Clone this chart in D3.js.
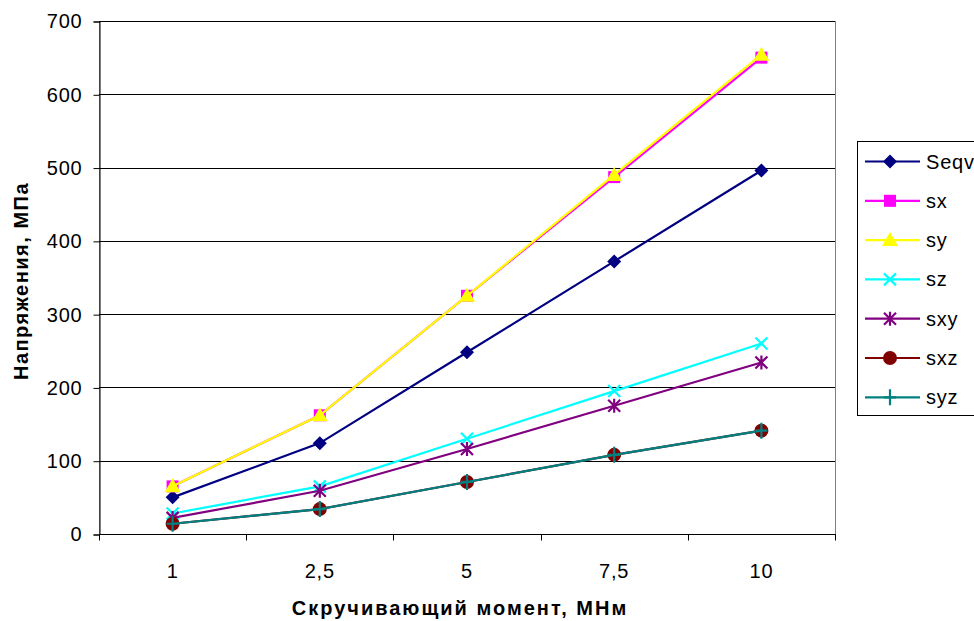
<!DOCTYPE html>
<html>
<head>
<meta charset="utf-8">
<script src="https://cdn.jsdelivr.net/npm/d3@7"></script>
<style>
  html, body { margin: 0; padding: 0; background: #fff; }
  svg { display: block; font-family: Arial, "Liberation Sans", sans-serif; }
</style>
</head>
<body>
<svg id="chart" width="974" height="621"></svg>
<script>
// Torque levels (category axis)
const categories = ["1", "2,5", "5", "7,5", "10"];

// Stress components, MPa
const seqv = [50, 124, 248, 372, 496];
const sx   = [65, 162, 325, 487, 650];
const sy   = [65, 162, 325, 490, 654];
const sz   = [28, 65, 130, 195, 260];
const sxy  = [22, 59, 116, 175, 234];
const sxz  = [14, 34, 71, 108, 141];
const syz  = [14, 34, 71, 108, 141];

const yTicks = [0, 100, 200, 300, 400, 500, 600, 700];

const series = [
  { name: "Seqv", values: seqv, color: "#000080", marker: "diamond" },
  { name: "sx",   values: sx,   color: "#FF00FF", marker: "square" },
  { name: "sy",   values: sy,   color: "#FFFF00", marker: "triangle" },
  { name: "sz",   values: sz,   color: "#00FFFF", marker: "x" },
  { name: "sxy",  values: sxy,  color: "#800080", marker: "star" },
  { name: "sxz",  values: sxz,  color: "#800000", marker: "circle" },
  { name: "syz",  values: syz,  color: "#008080", marker: "plus" }
];

const svg = d3.select("#chart");
const plot = { left: 99, right: 835, top: 21, bottom: 534 };

const x = d3.scaleBand().domain(categories).range([plot.left, plot.right]);
const y = d3.scaleLinear().domain([0, 700]).range([plot.bottom, plot.top]);
const cx = c => x(c) + x.bandwidth() / 2;

// Plot area frame (grey)
svg.append("rect")
  .attr("x", plot.left + 0.5).attr("y", plot.top + 0.5)
  .attr("width", plot.right - plot.left).attr("height", plot.bottom - plot.top)
  .attr("fill", "none").attr("stroke", "#808080").attr("stroke-width", 1);

// Horizontal gridlines
svg.append("g").selectAll("line")
  .data(yTicks.filter(d => d > 0))
  .join("line")
  .attr("x1", plot.left).attr("x2", plot.right)
  .attr("y1", d => Math.round(y(d)) + 0.5).attr("y2", d => Math.round(y(d)) + 0.5)
  .attr("stroke", "#000").attr("stroke-width", 1);

// Y axis
const yAxis = svg.append("g")
  .attr("transform", `translate(${plot.left + 0.5},0.5)`)
  .call(d3.axisLeft(y).tickValues(yTicks).tickSize(6).tickPadding(11).tickFormat(d3.format("d")));
yAxis.select(".domain").attr("stroke", "#000");
yAxis.selectAll(".tick line").attr("stroke", "#000");
yAxis.selectAll("text").attr("font-size", 20).attr("fill", "#000")
  .attr("letter-spacing", 0.8)
  .attr("font-family", "Arial, 'Liberation Sans', sans-serif");

// X axis: ticks at category boundaries, labels at centres
const xAxisG = svg.append("g").attr("transform", `translate(0,${plot.bottom + 0.5})`);
xAxisG.append("line")
  .attr("x1", plot.left).attr("x2", plot.right + 1)
  .attr("stroke", "#000");
const boundaries = categories.map(c => x(c)).concat([plot.right]);
xAxisG.selectAll("line.tk").data(boundaries).join("line")
  .attr("class", "tk")
  .attr("x1", d => Math.round(d) + 0.5).attr("x2", d => Math.round(d) + 0.5)
  .attr("y1", 0).attr("y2", 6)
  .attr("stroke", "#000");
xAxisG.selectAll("text").data(categories).join("text")
  .attr("x", d => cx(d)).attr("y", 43)
  .attr("text-anchor", "middle")
  .attr("font-size", 20).attr("fill", "#000")
  .attr("letter-spacing", 0.8)
  .text(d => d);

// Axis titles
svg.append("text")
  .attr("transform", `translate(28,281) rotate(-90)`)
  .attr("text-anchor", "middle")
  .attr("font-size", 20).attr("font-weight", "bold")
  .attr("letter-spacing", 1.5)
  .text("Напряжения, МПа");
svg.append("text")
  .attr("x", 460).attr("y", 615)
  .attr("text-anchor", "middle")
  .attr("font-size", 20).attr("font-weight", "bold")
  .attr("letter-spacing", 2)
  .text("Скручивающий момент, МНм");

// Marker drawing
function drawMarker(g, type, color) {
  switch (type) {
    case "diamond":
      g.append("path").attr("d", "M0,-7L7,0L0,7L-7,0Z").attr("fill", color);
      break;
    case "square":
      g.append("rect").attr("x", -6).attr("y", -6).attr("width", 12).attr("height", 12).attr("fill", color);
      break;
    case "triangle":
      g.append("path").attr("d", "M0,-8L8,6L-8,6Z").attr("fill", color);
      break;
    case "x":
      g.append("path").attr("d", "M-6,-6L6,6M-6,6L6,-6").attr("stroke", color).attr("stroke-width", 2.2).attr("fill", "none");
      break;
    case "star":
      g.append("path").attr("d", "M-6,-6L6,6M-6,6L6,-6M0,-7L0,7").attr("stroke", color).attr("stroke-width", 2.2).attr("fill", "none");
      break;
    case "circle":
      g.append("circle").attr("r", 7).attr("fill", color);
      break;
    case "plus":
      g.append("path").attr("d", "M-6,0L6,0M0,-8L0,8").attr("stroke", color).attr("stroke-width", 2.2).attr("fill", "none");
      break;
  }
}

const line = d3.line().x((d, i) => cx(categories[i])).y(d => y(d));

const seriesG = svg.append("g").selectAll("g").data(series).join("g");
seriesG.append("path")
  .attr("d", d => line(d.values))
  .attr("fill", "none")
  .attr("stroke", d => d.color)
  .attr("stroke-width", 2.2);
seriesG.each(function (s) {
  const g = d3.select(this);
  s.values.forEach((v, i) => {
    const m = g.append("g").attr("transform", `translate(${cx(categories[i])},${y(v)})`);
    drawMarker(m, s.marker, s.color);
  });
});

// Legend
const legend = svg.append("g");
legend.append("rect")
  .attr("x", 857.5).attr("y", 141.5).attr("width", 130).attr("height", 274)
  .attr("fill", "#fff").attr("stroke", "#000").attr("stroke-width", 1);
const items = legend.selectAll("g.item").data(series).join("g")
  .attr("class", "item")
  .attr("transform", (d, i) => `translate(890,${161.5 + i * 39.3})`);
items.append("line")
  .attr("x1", -25).attr("x2", 30)
  .attr("stroke", d => d.color).attr("stroke-width", 2.2);
items.each(function (s) { drawMarker(d3.select(this), s.marker, s.color); });
items.append("text")
  .attr("x", 36).attr("y", 7)
  .attr("font-size", 20).attr("fill", "#000")
  .attr("letter-spacing", 0.8)
  .text(d => d.name);
</script>
</body>
</html>
